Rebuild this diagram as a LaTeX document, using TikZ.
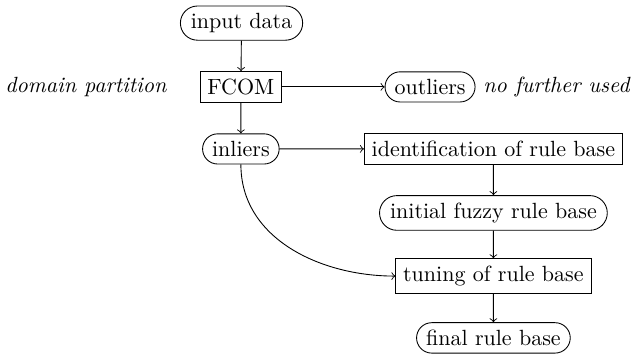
\documentclass[tikz,border=0pt]{standalone}
\usepackage{tikz}
\usetikzlibrary{shapes.misc,arrows}

\tikzset{
	stage/.style={draw, rectangle},
	data/.style={draw, rounded rectangle},
	remark/.style={font=\itshape},
}

\begin{document}
\begin{tikzpicture}[x=1pt,y=1pt]
	\useasboundingbox (0,0) rectangle (287.3,-161.4);
	% left column
	\node[data]   (input)   at (109.8,-10.5)  {input data};
	\node[stage]  (fcom)    at (109.5,-39.5)  {FCOM};
	\node[remark] (dompart) at (39.1,-39.5)   {domain partition};
	\node[data]   (inliers) at (109.5,-67.7)  {inliers};
	% outliers
	\node[data]   (outliers) at (195.5,-39.5) {outliers};
	\node[remark, anchor=west] (nofurther) at (outliers.east) {no further used};
	% right column
	\node[stage]  (ident)   at (224.3,-67.7)  {identification of rule base};
	\node[data]   (initial) at (224.3,-96.8)  {initial fuzzy rule base};
	\node[stage]  (tuning)  at (224.3,-125.5) {tuning of rule base};
	\node[data]   (final)   at (224.3,-153.6) {final rule base};

	\path[->]
	(input) edge (fcom)
	(fcom) edge (outliers) edge (inliers)
	(inliers) edge (ident) edge[out=-90, in=180] (tuning)
	(ident) edge (initial)
	(initial) edge (tuning)
	(tuning) edge (final);
\end{tikzpicture}
\end{document}
